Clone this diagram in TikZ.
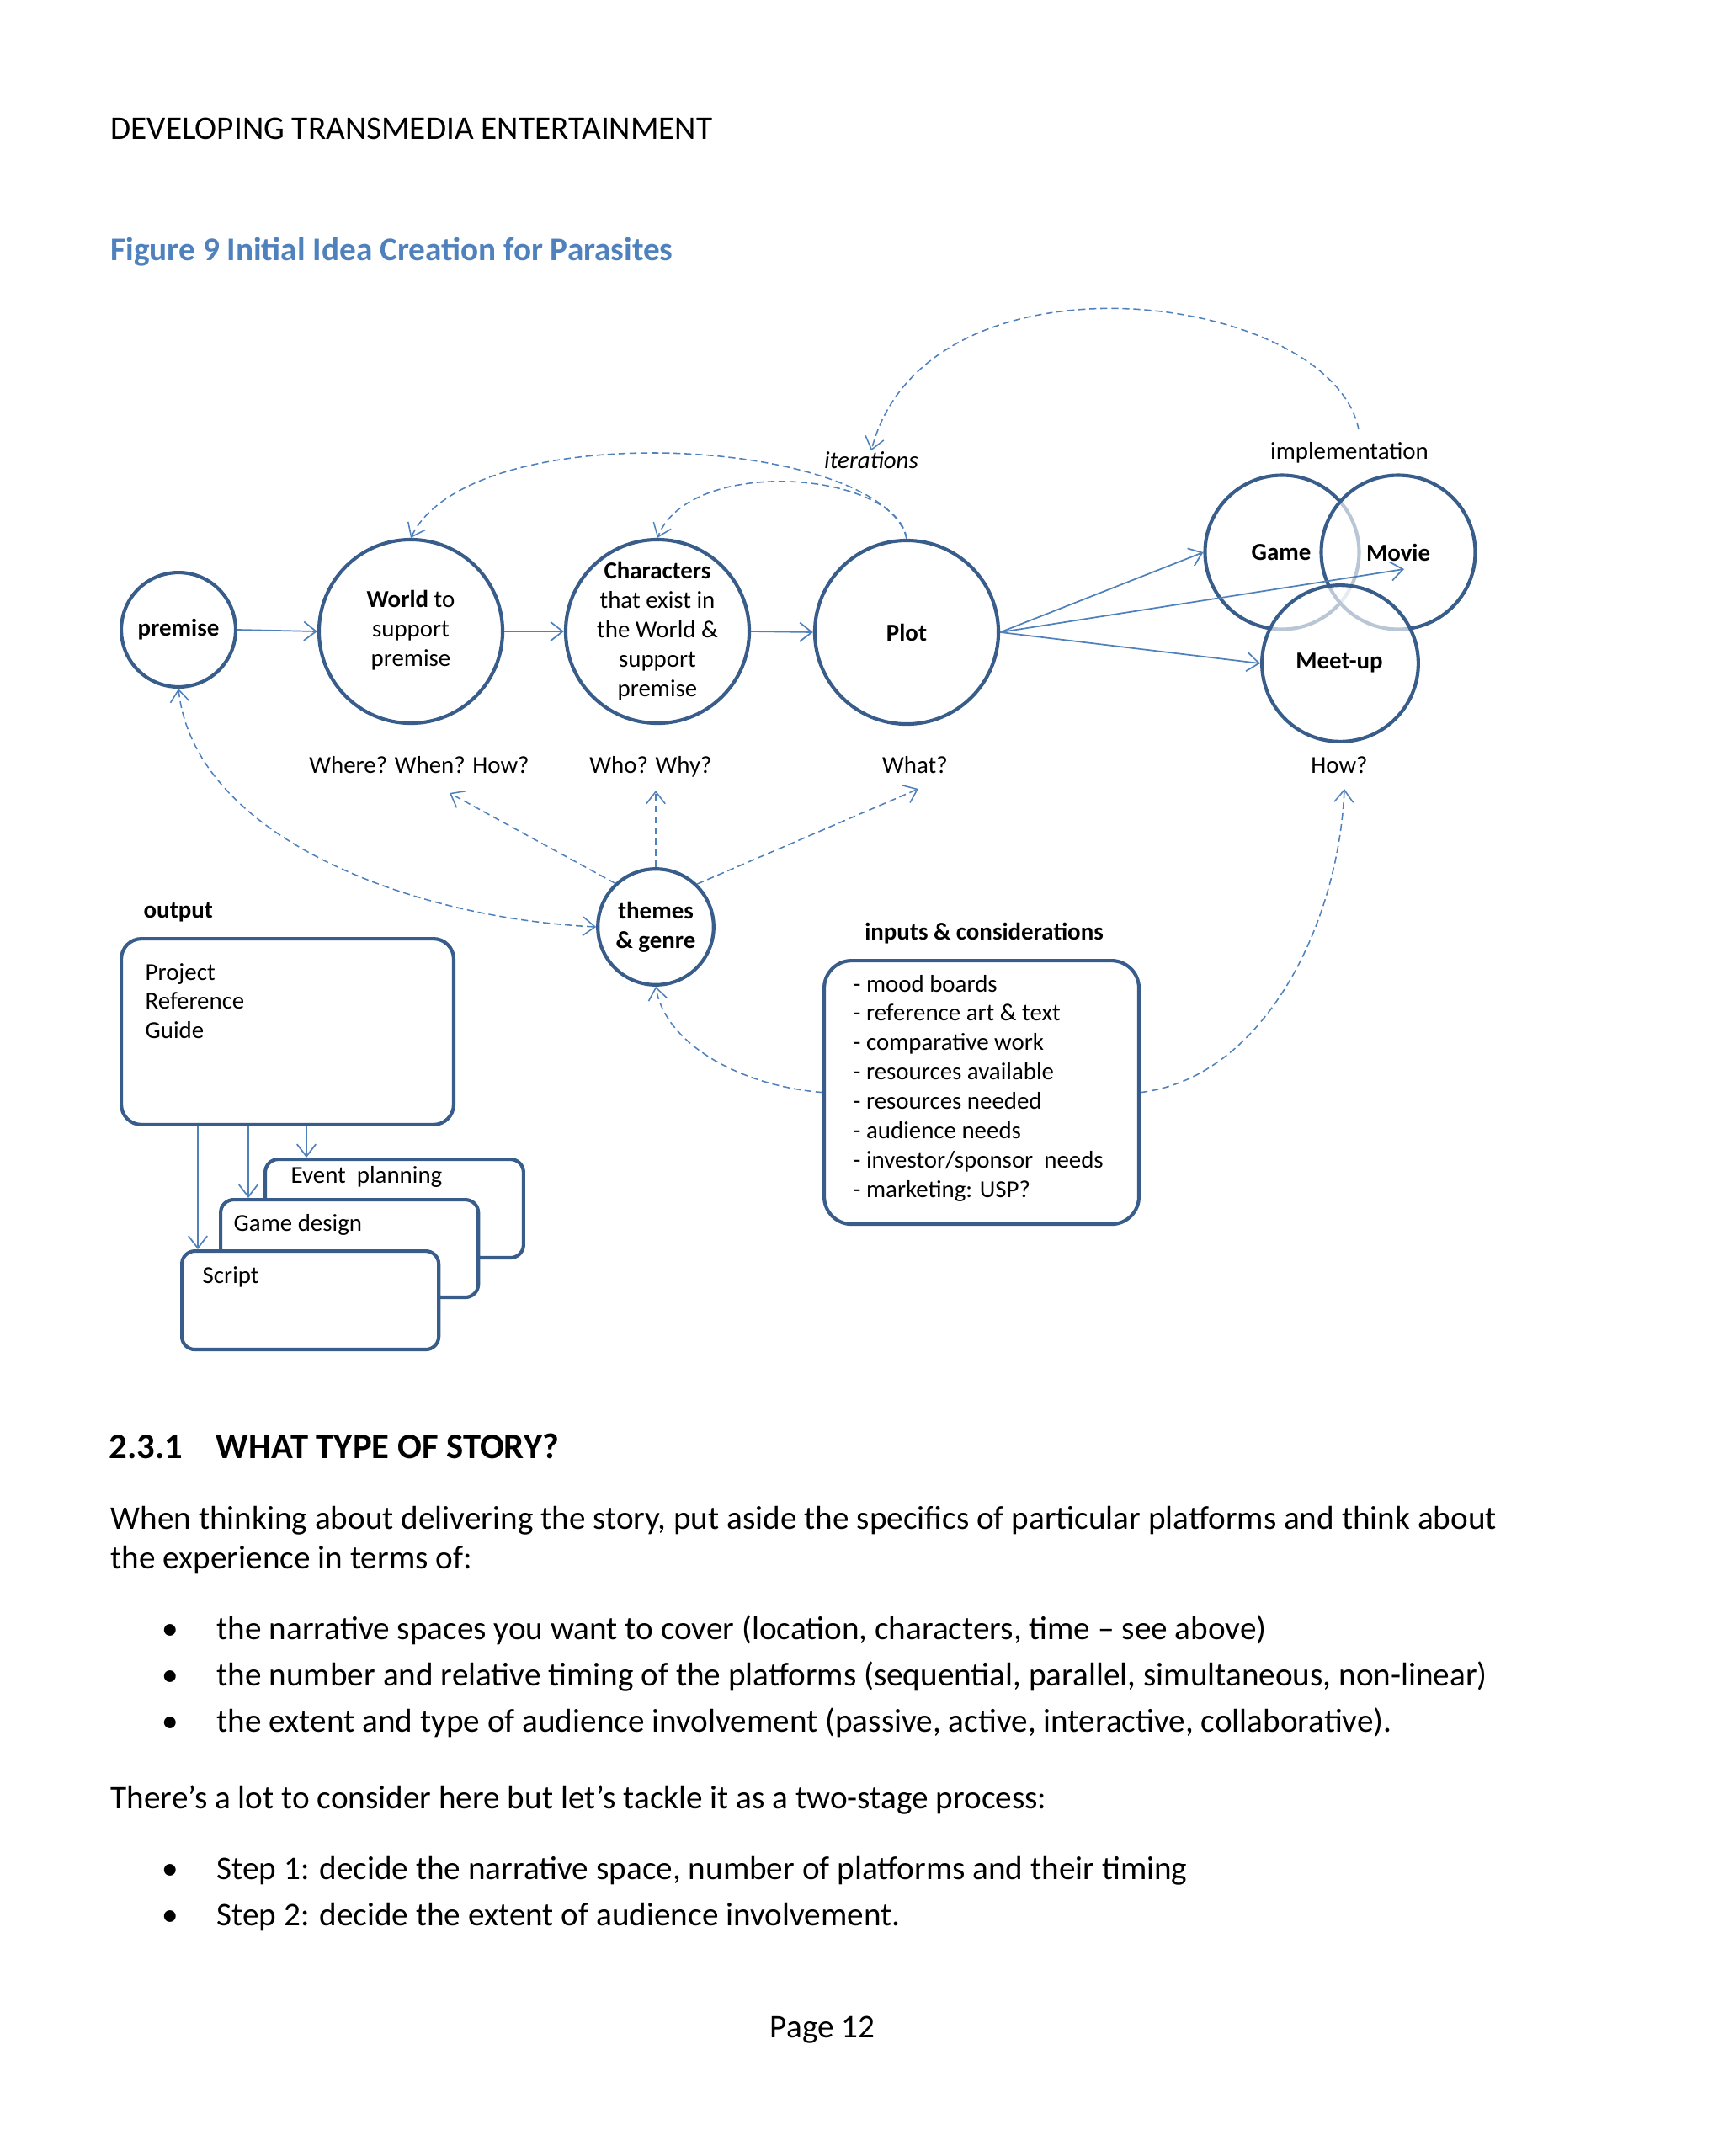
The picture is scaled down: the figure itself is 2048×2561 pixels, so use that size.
\documentclass[tikz,border=0pt]{standalone}
\usepackage{fontspec}
\setmainfont{Carlito}
\usetikzlibrary{arrows.meta}
\definecolor{circc}{HTML}{385D8A}
\definecolor{arrc}{HTML}{4F81BD}
\definecolor{titc}{HTML}{4F81BD}
\begin{document}
\begin{tikzpicture}[x=0.2907pt, y=-0.2907pt,
  dtext/.style={font=\fontsize{8.4}{10.2}\selectfont, inner sep=0pt, align=center},
  dbold/.style={font=\fontsize{8.4}{10.2}\selectfont\bfseries, inner sep=0pt, align=center},
  circ/.style={circle, draw=circc, line width=1.2pt, inner sep=0pt, fill=white},
  venn/.style={circle, draw=circc, line width=1.2pt, inner sep=0pt, fill=white, fill opacity=0.65, draw opacity=1},
  obox/.style={draw=circc, line width=1.2pt, fill=white, inner sep=0pt, anchor=north west},
  arr/.style={draw=arrc, line width=0.5pt, -{Straight Barb[length=4.2pt,width=6.5pt]}},
  darr/.style={draw=arrc, line width=0.45pt, dash pattern=on 2.4pt off 1.4pt, -{Straight Barb[length=4.2pt,width=6.5pt]}},
  btxt/.style={font=\fontsize{11.4}{13.9}\selectfont, inner sep=0pt, anchor=base west}
]
\fill[white] (0,0) rectangle (2048,2561);
\useasboundingbox (0,0) rectangle (2048,2561);

% header and title
\node[btxt] (hdr) at (131,165) {DEVELOPING TRANSMEDIA ENTERTAINMENT};
\node[btxt, text=titc, font=\fontsize{11.4}{13.9}\selectfont\bfseries] (fig) at (131,309) {Figure 9 Initial Idea Creation for Parasites};

% main circles
\node[circ, minimum size=39.5pt] (premise) at (212,748) {};
\node[circ, minimum size=63.4pt] (world) at (488,750) {};
\node[circ, minimum size=63.4pt] (chars) at (781,750) {};
\node[circ, minimum size=63.4pt] (plot) at (1077,751) {};
\node[circ, minimum size=40pt] (themes) at (779,1101) {};

% venn
\node[venn, minimum size=53.2pt] (game) at (1523,656) {};
\node[venn, minimum size=53.2pt] (movie) at (1661,656) {};
\node[venn, minimum size=54pt] (meetup) at (1592,788) {};

% circle texts
\node[dbold] (premiseT) at (212,748) {premise};
\node[dtext] (worldT) at (488,749) {\textbf{World} to\\support\\premise};
\node[dtext] (charsT) at (781,750) {\textbf{Characters}\\that exist in\\the World \&\\support\\premise};
\node[dbold] (plotT) at (1077,751) {Plot};
\node[dbold] (themesT) at (779,1101) {themes\\\& genre};
\node[dbold] (gameT) at (1522,656) {Game};
\node[dbold] (movieT) at (1661,656) {Movie};
\node[dbold] (meetupT) at (1591,787) {Meet-up};

% labels
\node[dtext, anchor=base] (iter) at (1035,556) {\itshape iterations};
\node[dtext, anchor=base] (impl) at (1603,545) {implementation};
\node[dtext, anchor=base] (qwhere) at (498,918) {Where? When? How?};
\node[dtext, anchor=base] (qwho) at (773,918) {Who? Why?};
\node[dtext, anchor=base] (qwhat) at (1087,918) {What?};
\node[dtext, anchor=base] (qhow) at (1591,918) {How?};

% output boxes
\node[dbold, anchor=base west] (outL) at (170,1090) {output};
\node[obox, rounded corners=7pt, minimum width=114.8pt, minimum height=64.2pt] (out) at (142,1113) {};
\node[dtext, anchor=base west] (outT1) at (172,1164) {Project};
\node[dtext, anchor=base west] (outT2) at (172,1198.5) {Reference};
\node[dtext, anchor=base west] (outT3) at (172,1233) {Guide};

\node[obox, rounded corners=4.5pt, minimum width=89.2pt, minimum height=34pt] (event) at (313,1375) {};
\node[dtext, anchor=base west] (evT) at (345,1405) {Event\ \ planning};
\node[obox, rounded corners=4.5pt, minimum width=89pt, minimum height=33.7pt] (gdes) at (260,1423) {};
\node[dtext, anchor=base west] (gdT) at (277,1462) {Game design};
\node[obox, rounded corners=4.5pt, minimum width=88.7pt, minimum height=34pt] (script) at (214,1484) {};
\node[dtext, anchor=base west] (scT) at (240,1524) {Script};

\coordinate (ax1) at (235,0);
\coordinate (ax2) at (295,0);
\coordinate (ax3) at (364,0);
\draw[arr] (out.south -| ax1) -- (script.north -| ax1);
\draw[arr] (out.south -| ax2) -- (gdes.north -| ax2);
\draw[arr] (out.south -| ax3) -- (event.north -| ax3);

% inputs box
\node[dbold, anchor=base] (inL) at (1169,1116) {inputs \& considerations};
\node[obox, rounded corners=9.5pt, minimum width=108.7pt, minimum height=91pt] (inputs) at (977,1139) {};
\foreach \t [count=\i from 0] in {{- mood boards},{- reference art \& text},{- comparative work},{- resources available},{- resources needed},{- audience needs},{- investor/sponsor\ \ needs},{- marketing: USP?}}
  \node[dtext, anchor=base west] (in\i) at (1013,{1178+34.9*\i}) {\t};

% solid arrows
\draw[arr] (premise.east) -- (world.west);
\draw[arr] (world.east) -- (chars.west);
\draw[arr] (chars.east) -- (plot.west);
\coordinate (movieEnd) at (1668,676);
\draw[arr] (plot.east) -- (game.west);
\draw[arr] (plot.east) -- (movieEnd);
\draw[arr] (plot.east) -- (meetup.west);

% dashed connectors
\coordinate (implTop) at (1614,510);
\coordinate (qwhereEnd) at (534,942);
\coordinate (qwhoEnd) at (779,939);
\coordinate (qwhatEnd) at (1091,937);
\coordinate (qhowEnd) at (1597,937);
\draw[darr] (plot.north) .. controls (1050,520) and (560,490) .. (world.north);
\draw[darr] (plot.north) .. controls (1066,560) and (820,540) .. (chars.north);
\draw[darr] (implTop) .. controls (1580,345) and (1100,285) .. (iter.north);
\draw[darr, {Straight Barb[length=4.2pt,width=6.5pt]}-{Straight Barb[length=4.2pt,width=6.5pt]}] (premise.south) .. controls (230,990) and (480,1090) .. (themes.west);
\draw[darr] (themes.133) -- (qwhereEnd);
\draw[darr] (themes.north) -- (qwhoEnd);
\draw[darr] (themes.46) -- (qwhatEnd);
\draw[darr] (inputs.west) .. controls (880,1290) and (790,1240) .. (themes.south);
\draw[darr] (inputs.east) .. controls (1500,1280) and (1590,1100) .. (qhowEnd);

% body text
\node[btxt, font=\fontsize{12.4}{15}\selectfont\bfseries] (hd) at (129,1732) {\makebox[37pt][l]{2.3.1}WHAT TYPE OF STORY?};
\node[btxt] (p1) at (131,1816) {When thinking about delivering the story, put aside the specifics of particular platforms and think about};
\node[btxt] (p2) at (131,1863) {the experience in terms of:};
\node[btxt] (b1) at (192,1947) {\makebox[18.9pt][l]{•}the narrative spaces you want to cover (location, characters, time – see above)};
\node[btxt] (b2) at (192,2002) {\makebox[18.9pt][l]{•}the number and relative timing of the platforms (sequential, parallel, simultaneous, non-linear)};
\node[btxt] (b3) at (192,2057) {\makebox[18.9pt][l]{•}the extent and type of audience involvement (passive, active, interactive, collaborative).};
\node[btxt] (p3) at (131,2148) {There’s a lot to consider here but let’s tackle it as a two-stage process:};
\node[btxt] (s1) at (192,2232) {\makebox[18.9pt][l]{•}Step 1: decide the narrative space, number of platforms and their timing};
\node[btxt] (s2) at (192,2287) {\makebox[18.9pt][l]{•}Step 2: decide the extent of audience involvement.};
\node[btxt, anchor=base] (pg) at (977,2420) {Page 12};
\end{tikzpicture}
\end{document}
